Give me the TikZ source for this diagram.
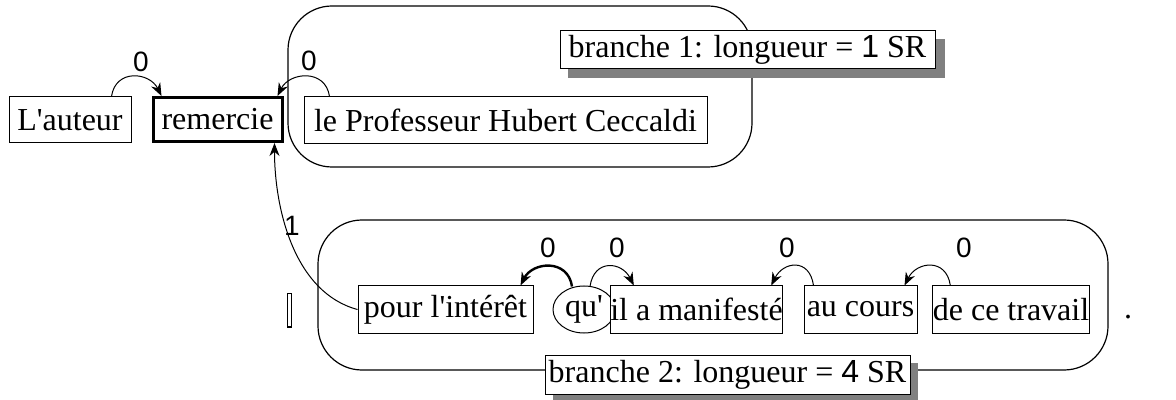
\documentclass[tikz,border=0pt]{standalone}
\usepackage{fontspec}
\setmainfont{Liberation Serif}[Ligatures=TeXOff]
\newfontfamily\arialf{Liberation Sans}
\usetikzlibrary{arrows.meta,calc,shapes.geometric}
\begin{document}
\begin{tikzpicture}[x=0.5pt,y=-0.5pt,
  wbox/.style={draw,line width=0.5pt,fill=white,inner sep=0pt,font=\fontsize{16}{19}\selectfont},
  tbox/.style={draw,line width=0.5pt,fill=white,inner sep=0pt,font=\fontsize{16}{19}\selectfont},
  shadowbox/.style={fill=black!50,draw=none},
  dep/.style={line width=0.5pt,-{Stealth[length=6.5pt,width=5pt]}},
  lab/.style={font=\arialf\fontsize{14}{16}\selectfont,inner sep=0pt},
  grp/.style={draw,line width=0.6pt,rounded corners=22pt}]
\useasboundingbox (0,0) rectangle (1176,400);
% group boxes
\draw[grp] (288,6) rectangle (752,167);
\draw[grp] (318,220) rectangle (1108,370);
% branch labels with shadows
\fill[shadowbox] (568,39) rectangle (945,78);
\node[tbox,minimum width=187.5pt,minimum height=19pt] (b1) at (747.5,50) {branche 1: longueur = {\arialf 1} SR};
\fill[shadowbox] (553,363) rectangle (918,401);
\node[tbox,minimum width=182.5pt,minimum height=19.5pt] (b2) at (727.5,374.5) {branche 2: longueur = {\arialf 4} SR};
% words
\node[wbox,minimum width=61pt,minimum height=23pt] (laut) at (70,120) {L'auteur};
\node[wbox,line width=1.5pt,minimum width=64.5pt,minimum height=22pt] (rem) at (217.5,119.5) {remercie};
\node[wbox,minimum width=201.5pt,minimum height=23.5pt] (prof) at (505.5,120.5) {le Professeur Hubert Ceccaldi};
\node[wbox,minimum width=87.5pt,minimum height=23.5pt] (pour) at (445.5,309.5) {pour l'intérêt};
\node[wbox,ellipse,inner sep=0pt,minimum width=31pt,minimum height=23.5pt] (qu) at (584,309.5) {qu'};
\node[wbox,minimum width=82.5pt,minimum height=23.5pt] (ila) at (696.5,309.5) {il a manifesté};
\node[wbox,minimum width=56.5pt,minimum height=23.5pt] (au) at (860.5,309.5) {au cours};
\node[wbox,minimum width=77pt,minimum height=23.5pt] (de) at (1011,309.5) {de ce travail};
\node[inner sep=0pt,font=\fontsize{16}{19}\selectfont] (dot) at (1128,317) {.};
\draw[line width=0.5pt] (287,294) rectangle (291,327);
% dependencies
\draw[dep] ($(laut.north west)+(103,0)$) .. controls +(4,-28) and +(-12,-24) .. ($(rem.north west)+(10,0)$);
\node[lab] (l1) at (141,62) {0};
\draw[dep] ($(prof.north west)+(26,0)$) .. controls +(-4,-28) and +(12,-24) .. ($(rem.north east)+(-6,0)$);
\node[lab] (l2) at (309,61) {0};
\draw[dep] (pour.west) to[out=165,in=270,looseness=0.9] ($(rem.south east)+(-9,0)$);
\node[lab] (l3) at (292,226) {1};
\draw[dep,line width=1.2pt] ($(qu.north)+(-12,1)$) .. controls +(-4,-28) and +(12,-24) .. ($(pour.north east)+(-13,0)$);
\node[lab] (l4) at (548,248) {0};
\draw[dep] ($(qu.north)+(6,1)$) .. controls +(4,-28) and +(-12,-24) .. ($(ila.north west)+(24,0)$);
\node[lab] (l5) at (617,248) {0};
\draw[dep] ($(au.north west)+(10,0)$) .. controls +(-4,-28) and +(12,-24) .. ($(ila.north east)+(-12,0)$);
\node[lab] (l6) at (787,248) {0};
\draw[dep] ($(de.north west)+(18,0)$) .. controls +(-4,-28) and +(12,-24) .. ($(au.north east)+(-13,0)$);
\node[lab] (l7) at (964,248) {0};
\end{tikzpicture}
\end{document}
